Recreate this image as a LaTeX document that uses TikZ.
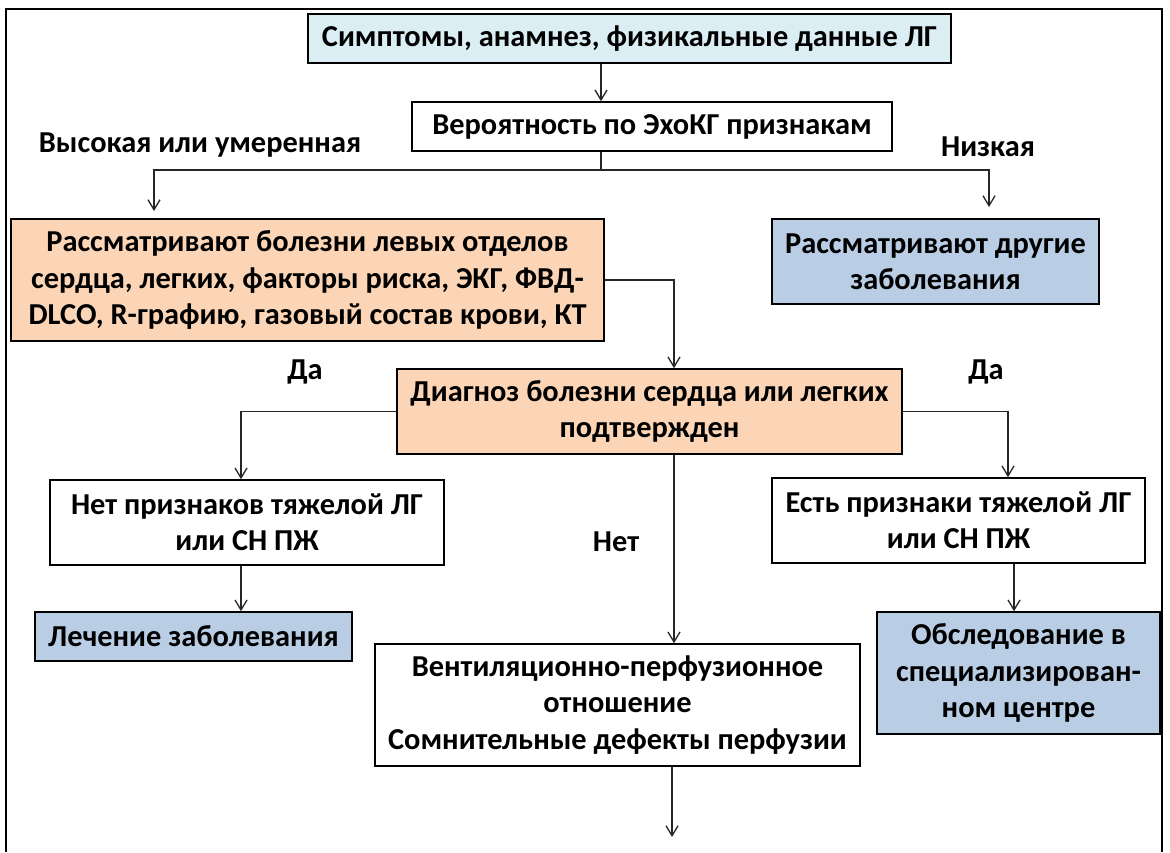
\documentclass[tikz,border=0pt]{standalone}
\usepackage{fontspec}
\setmainfont{Carlito}
\usetikzlibrary{arrows.meta, positioning}
\definecolor{topblue}{HTML}{DBEEF4}
\definecolor{peach}{HTML}{FBD5B5}
\definecolor{steel}{HTML}{B9CDE5}

\begin{document}
\begin{tikzpicture}[
  x=0.5pt, y=-0.5pt,
  box/.style={draw, line width=0.8pt, align=center, inner sep=2pt, font=\bfseries\fontsize{15.2}{18.2}\selectfont},
  lbl/.style={font=\bfseries\fontsize{15.2}{18.2}\selectfont},
  arr/.style={-{Straight Barb[length=5pt, width=6pt]}, line width=0.65pt, draw=black!85},
  link/.style={line width=0.65pt, draw=black!85}
]
\useasboundingbox (0,0) rectangle (1170,852);
\draw[line width=1pt] (6,852) -- (6,9) -- (1162,9) -- (1162,852);

% columns of the connectors
\coordinate (colA) at (601,0);
\coordinate (colL) at (241,0);
\coordinate (colM) at (674,0);
\coordinate (colR) at (1008,0);
\coordinate (colS) at (1014,0);

\node[box, fill=topblue, minimum width=321.5pt, minimum height=24.5pt] (sympt) at (629.5,38.5) {Симптомы, анамнез, физикальные данные ЛГ};
\node[box, fill=white, minimum width=240pt, minimum height=24.5pt] (prob) at (652,126.5) {Вероятность по ЭхоКГ признакам};
\node[lbl] (high) at (200,145) {Высокая или умеренная};
\node[lbl] (low) at (988,147) {Низкая};

\node[box, fill=peach, minimum width=296.5pt, minimum height=61pt] (lhs) at (307.5,280) {Рассматривают болезни левых отделов\\ сердца, легких, факторы риска, ЭКГ, ФВД-\\ DLCO, R-графию, газовый состав крови, КТ};
\node[box, fill=steel, minimum width=163.5pt, minimum height=42.5pt] (other) at (935.5,261.5) {Рассматривают другие\\ заболевания};

\node[box, fill=peach, minimum width=252.5pt, minimum height=42.5pt] (diag) at (649.5,411.5) {Диагноз болезни сердца или легких\\ подтвержден};
\node[lbl] (yesL) at (305,372) {Да};
\node[lbl] (yesR) at (986,372) {Да};
\node[lbl] (no) at (616,542) {Нет};

\node[box, fill=white, minimum width=197pt, minimum height=42.5pt] (nosev) at (247,522.5) {Нет признаков тяжелой ЛГ\\ или СН ПЖ};
\node[box, fill=white, minimum width=186.5pt, minimum height=42.5pt] (sev) at (958.5,520.5) {Есть признаки тяжелой ЛГ\\ или СН ПЖ};
\node[box, fill=steel, minimum width=158.5pt, minimum height=24.5pt] (treat) at (193.5,636.5) {Лечение заболевания};
\node[box, fill=steel, minimum width=141.5pt, minimum height=61pt] (center) at (1018.5,673) {Обследование в\\ специализирован-\\ ном центре};
\node[box, fill=white, minimum width=242.5pt, minimum height=61pt] (vq) at (617.5,705) {Вентиляционно-перфузионное\\ отношение\\ Сомнительные дефекты перфузии};

% top part
\coordinate (fork) at (601,170);
\coordinate (hiEnd) at (154,211);
\coordinate (loEnd) at (989,207);
\draw[arr] (sympt.south -| colA) -- (prob.north -| colA);
\draw[link] (prob.south -| colA) -- (fork);
\draw[arr] (fork) -| (hiEnd);
\draw[arr] (fork) -| (loEnd);
\draw[arr] (lhs.east) -| (diag.north -| colM);

% yes / no branches
\draw[arr] (diag.west) -| (nosev.north -| colL);
\draw[arr] (diag.east) -| (sev.north -| colR);
\draw[arr] (diag.south -| colM) -- (vq.north -| colM);
\draw[arr] (nosev.south -| colL) -- (treat.north -| colL);
\draw[arr] (sev.south -| colS) -- (center.north -| colS);

\coordinate (down) at (672,837);
\draw[arr] (vq.south -| down) -- (down);
\end{tikzpicture}
\end{document}
